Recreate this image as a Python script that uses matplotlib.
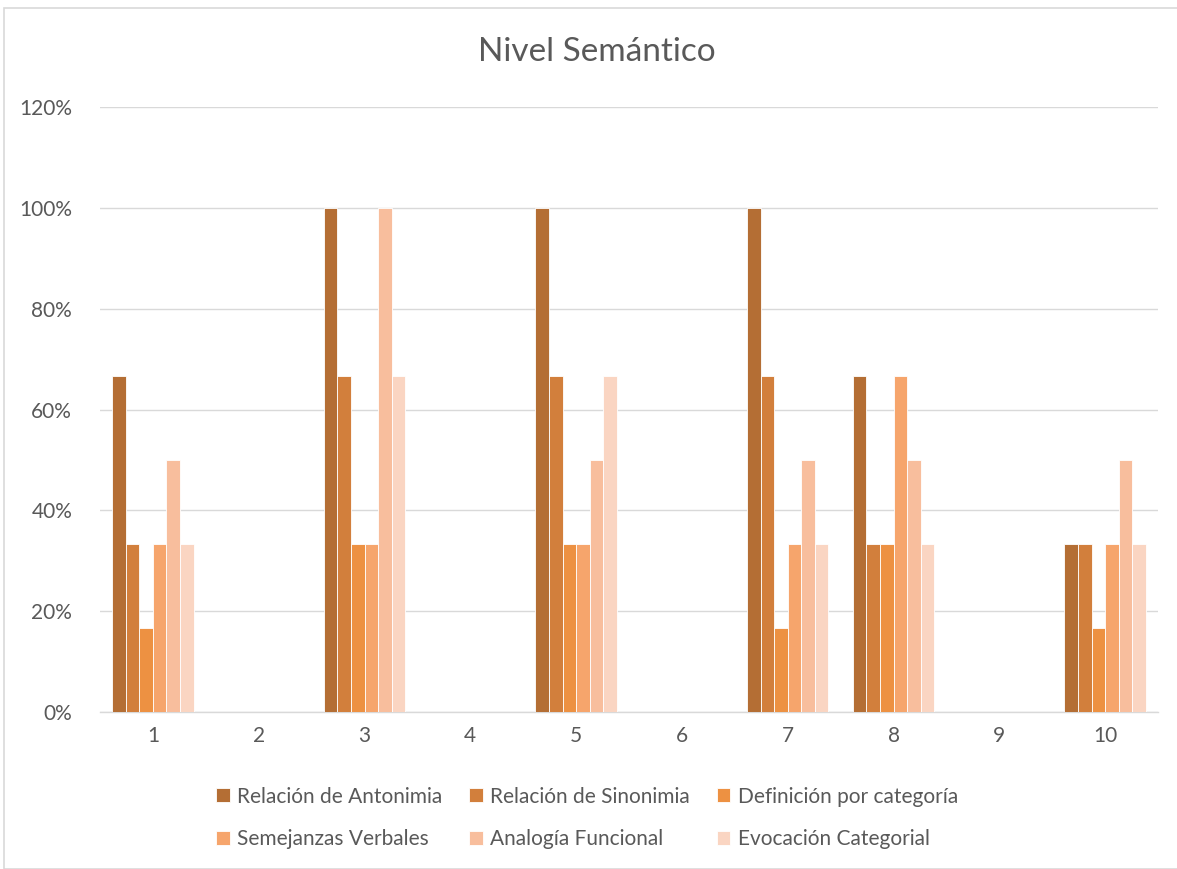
import matplotlib
matplotlib.use("Agg")
import matplotlib.pyplot as plt
import numpy as np
from matplotlib.patches import Rectangle

categories = ["1", "2", "3", "4", "5", "6", "7", "8", "9", "10"]
series_names = ["Relación de Antonimia", "Relación de Sinonimia", "Definición por categoría",
                "Semejanzas Verbales", "Analogía Funcional", "Evocación Categorial"]
antonimia = [0.667, 0, 1.0, 0, 1.0, 0, 1.0, 0.667, 0, 0.333]
sinonimia = [0.333, 0, 0.667, 0, 0.667, 0, 0.667, 0.333, 0, 0.333]
definicion = [0.167, 0, 0.333, 0, 0.333, 0, 0.167, 0.333, 0, 0.167]
semejanzas = [0.333, 0, 0.333, 0, 0.333, 0, 0.333, 0.667, 0, 0.333]
analogia = [0.5, 0, 1.0, 0, 0.5, 0, 0.5, 0.5, 0, 0.5]
evocacion = [0.333, 0, 0.667, 0, 0.667, 0, 0.333, 0.333, 0, 0.333]
series_values = [antonimia, sinonimia, definicion, semejanzas, analogia, evocacion]
colors = ["#B46E34", "#D27F3C", "#ED9142", "#F6A56C", "#F8BE9D", "#FAD5C2"]
yticks = [0, 0.2, 0.4, 0.6, 0.8, 1.0, 1.2]
ytick_labels = ["0%", "20%", "40%", "60%", "80%", "100%", "120%"]

plt.rcParams['font.family'] = ['Lato', 'DejaVu Sans']
txt = "#595959"

fig = plt.figure(figsize=(11.77, 8.69), dpi=100)
ax = fig.add_axes([100/1177, 1-712/869, 1058/1177, 605/869])

x = np.arange(len(categories))
w = 0.128
handles = []
for i, (name, vals, c) in enumerate(zip(series_names, series_values, colors)):
    b = ax.bar(x + (i - 2.5) * w, vals, width=w, color=c, edgecolor="white",
               linewidth=0.6, label=name, zorder=3)
    handles.append(b)

ax.set_xlim(-0.5, len(categories) - 0.5)
ax.set_ylim(0, 1.2)
ax.set_yticks(yticks)
ax.set_yticklabels(ytick_labels)
ax.set_xticks(x)
ax.set_xticklabels(categories)
ax.tick_params(axis="both", length=0, labelsize=15, colors=txt)
ax.tick_params(axis="y", pad=20)
ax.tick_params(axis="x", pad=10)
ax.grid(axis="y", color="#D9D9D9", linewidth=1, zorder=0)
for s in ["top", "right", "left"]:
    ax.spines[s].set_visible(False)
ax.spines["bottom"].set_color("#D9D9D9")
ax.spines["bottom"].set_linewidth(1)

fig.text(597/1177, 1-52/869, "Nivel Semántico", ha="center", va="center",
         fontsize=24, color=txt)

order = [0, 3, 1, 4, 2, 5]
leg = fig.legend([handles[i] for i in order], [series_names[i] for i in order],
                 ncol=3, loc="center", bbox_to_anchor=(587/1177, 1-818/869),
                 frameon=False, fontsize=15, handlelength=0.65, handleheight=0.65,
                 handletextpad=0.35, columnspacing=1.3, labelspacing=1.1)
for t in leg.get_texts():
    t.set_color(txt)

fig.patches.append(Rectangle((4/1177, 0), 1.0, 1-8/869, transform=fig.transFigure,
                             fill=False, edgecolor="#D9D9D9", linewidth=1.2))

fig.savefig("out.png", dpi=100, facecolor="white")
